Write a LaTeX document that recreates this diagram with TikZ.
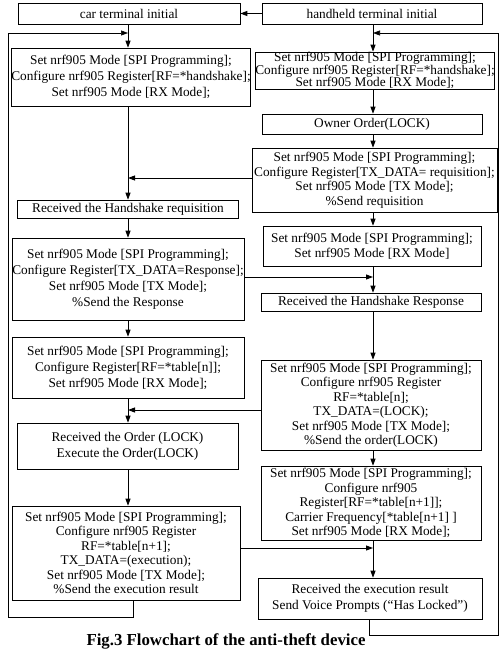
\documentclass[tikz,border=0pt]{standalone}
\usepackage{fontspec}
\setmainfont{Liberation Serif}
\usetikzlibrary{arrows.meta}
\begin{document}
\begin{tikzpicture}[x=1pt,y=-1pt,
  box/.style={draw, line width=0.6pt, align=center, inner sep=0pt, font=\fontsize{13.3}{16}\selectfont},
  tight/.style={font=\fontsize{13.3}{12.3}\selectfont},
  mid/.style={font=\fontsize{13.3}{14.5}\selectfont},
  arr/.style={-{Triangle[length=7pt,width=5pt]}, line width=0.9pt},
  thin/.style={line width=0.6pt}]
\useasboundingbox[fill=white] (0,0) rectangle (502,655);
\coordinate (cl) at (128,0);
\coordinate (cr) at (373,0);
\coordinate (ltop) at (8,33);
\coordinate (rtop) at (498,33);
\coordinate (lbot) at (8,617);
\coordinate (rbot) at (498,635);
\coordinate (l6out) at (133,0);
\coordinate (r8out) at (369,0);

\node[box, minimum width=222pt, minimum height=21pt] (car) at (129,13.5) {car terminal initial};
\node[box, minimum width=220pt, minimum height=21pt] (hand) at (372,13.5) {handheld terminal initial};

\node[box, minimum width=238pt, minimum height=58pt] (L1) at (131,77)
  {Set nrf905 Mode [SPI Programming];\\Configure nrf905 Register[RF=*handshake];\\Set nrf905 Mode [RX Mode];};
\node[box, minimum width=221pt, minimum height=18pt] (L2) at (128,209) {Received the Handshake requisition};
\node[box, minimum width=232pt, minimum height=82pt] (L3) at (128,279)
  {Set nrf905 Mode [SPI Programming];\\Configure Register[TX\_DATA=Response];\\Set nrf905 Mode [TX Mode];\\\%Send the Response};
\node[box, minimum width=232pt, minimum height=61pt] (L4) at (128,367.5)
  {Set nrf905 Mode [SPI Programming];\\Configure Register[RF=*table[n]];\\Set nrf905 Mode [RX Mode];};
\node[box, minimum width=221pt, minimum height=46pt] (L5) at (127.5,446)
  {Received the Order (LOCK)\\Execute the Order(LOCK)};
\node[box, mid, minimum width=228pt, minimum height=94pt] (L6) at (126,553)
  {Set nrf905 Mode [SPI Programming];\\Configure nrf905 Register\\RF=*table[n+1];\\TX\_DATA=(execution);\\Set nrf905 Mode [TX Mode];\\\%Send the execution result};

\node[box, tight, minimum width=236pt, minimum height=37pt] (R1) at (375,70.5)
  {Set nrf905 Mode [SPI Programming];\\Configure nrf905 Register[RF=*handshake];\\Set nrf905 Mode [RX Mode];};
\node[box, minimum width=220pt, minimum height=20pt] (R2) at (372,124) {Owner Order(LOCK)};
\node[box, mid, minimum width=245pt, minimum height=64pt] (R3) at (374.5,180)
  {Set nrf905 Mode [SPI Programming];\\Configure Register[TX\_DATA= requisition];\\Set nrf905 Mode [TX Mode];\\\%Send requisition};
\node[box, mid, minimum width=218pt, minimum height=40pt] (R4) at (372,246)
  {Set nrf905 Mode [SPI Programming];\\Set nrf905 Mode [RX Mode]};
\node[box, minimum width=220pt, minimum height=18pt] (R5) at (371,302) {Received the Handshake Response};
\node[box, mid, minimum width=220pt, minimum height=90pt] (R6) at (371,405)
  {Set nrf905 Mode [SPI Programming];\\Configure nrf905 Register\\RF=*table[n];\\TX\_DATA=(LOCK);\\Set nrf905 Mode [TX Mode];\\\%Send the order(LOCK)};
\node[box, mid, minimum width=220pt, minimum height=74pt] (R7) at (371,503)
  {Set nrf905 Mode [SPI Programming];\\Configure nrf905\\Register[RF=*table[n+1]];\\Carrier Frequency[*table[n+1] ]\\Set nrf905 Mode [RX Mode];};
\node[box, minimum width=224pt, minimum height=41pt] (R8) at (370,598.5)
  {Received the execution result\\Send Voice Prompts (``Has Locked'')};

\node[font=\bfseries\fontsize{16.8}{19}\selectfont, inner sep=0pt] (cap) at (226,641) {Fig.3 Flowchart of the anti-theft device};

% top link
\draw[arr] (hand.west) -- (car.east);
% left column
\draw[arr] (car.south -| cl) -- (L1.north -| cl);
\draw[arr] (L1.south -| cl) -- (L2.north -| cl);
\draw[arr] (L2.south -| cl) -- (L3.north -| cl);
\draw[arr] (L3.south -| cl) -- (L4.north -| cl);
\draw[arr] (L4.south -| cl) -- (L5.north -| cl);
\draw[arr] (L5.south -| cl) -- (L6.north -| cl);
\draw[arr, thin] (L6.south -| l6out) |- (lbot) |- (ltop -| cl);
% right column
\draw[arr] (hand.south -| cr) -- (R1.north -| cr);
\draw[arr] (R1.south -| cr) -- (R2.north -| cr);
\draw[arr] (R2.south -| cr) -- (R3.north -| cr);
\draw[arr] (R3.south -| cr) -- (R4.north -| cr);
\draw[arr] (R4.south -| cr) -- (R5.north -| cr);
\draw[arr] (R5.south -| cr) -- (R6.north -| cr);
\draw[arr] (R6.south -| cr) -- (R7.north -| cr);
\draw[arr] (R7.south -| cr) -- (R8.north -| cr);
\draw[arr, thin] (R8.south -| r8out) |- (rbot) |- (rtop -| cr);
% cross links
\draw[arr] ([yshift=2pt]R3.west) -- ([yshift=2pt]R3.west -| cl);
\draw[arr] ([yshift=2pt]L3.east) -- ([yshift=2pt]L3.east -| cr);
\draw[arr] ([yshift=-5pt]R6.west) -- ([yshift=-5pt]R6.west -| cl);
\draw[arr] ([yshift=5pt]L6.east) -- ([yshift=5pt]L6.east -| cr);
\end{tikzpicture}
\end{document}
